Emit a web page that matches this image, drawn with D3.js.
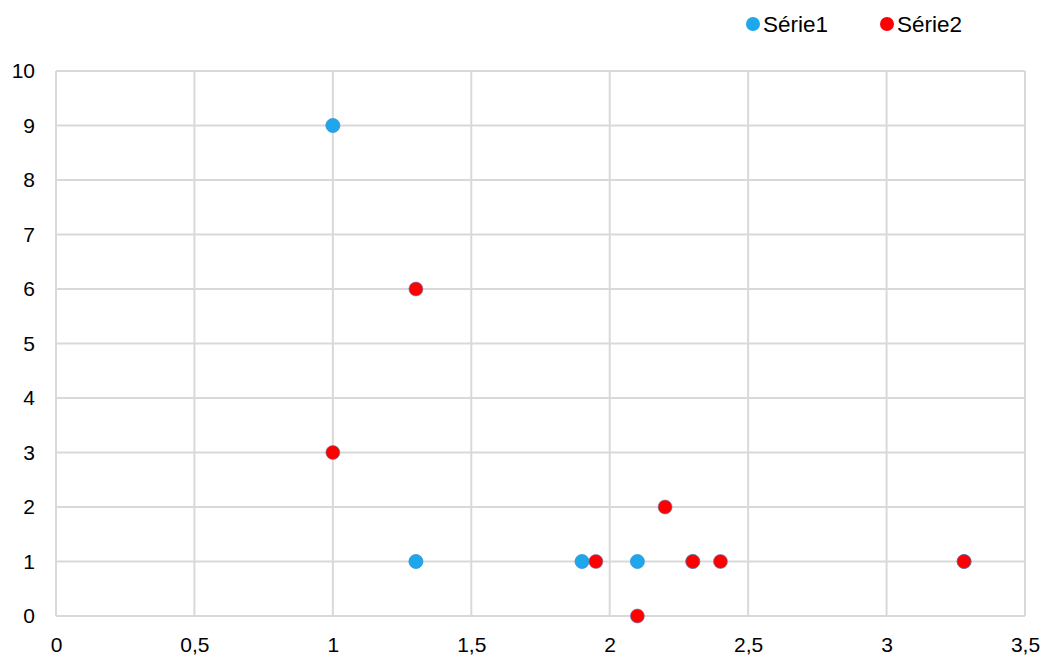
<!DOCTYPE html>
<html><head><meta charset="utf-8">
<script src="https://cdn.jsdelivr.net/npm/d3@7"></script>
<style>body{margin:0;background:#fff;} svg{display:block;font-family:"Liberation Sans",Arial,sans-serif;}</style>
</head><body>
<svg id="c" width="1045" height="657"></svg>
<script>
const seriesNames = ["Série1", "Série2"];
const seriesColors = ["#1fa7ec", "#ff0000"];
const serie1X = [1, 1.3, 1.9, 2.1, 2.3, 3.28];
const serie1Y = [9, 1, 1, 1, 1, 1];
const serie2X = [1, 1.3, 1.95, 2.1, 2.2, 2.3, 2.4, 3.28];
const serie2Y = [3, 6, 1, 0, 2, 1, 1, 1];
const xTicks = [0, 0.5, 1, 1.5, 2, 2.5, 3, 3.5];
const yTicks = [0, 1, 2, 3, 4, 5, 6, 7, 8, 9, 10];

const svg = d3.select("#c");
const L = 56, R = 1025, T = 71, B = 616;
const x = d3.scaleLinear().domain([0, 3.5]).range([L, R]);
const y = d3.scaleLinear().domain([0, 10]).range([B, T]);
const fmt = d => String(d).replace(".", ",");

// grid
svg.append("g").selectAll("line").data(xTicks).join("line")
  .attr("x1", d => x(d)).attr("x2", d => x(d)).attr("y1", T).attr("y2", B)
  .attr("stroke", "#d9d9d9").attr("stroke-width", 2);
svg.append("g").selectAll("line").data(yTicks).join("line")
  .attr("y1", d => y(d)).attr("y2", d => y(d)).attr("x1", L).attr("x2", R)
  .attr("stroke", "#d9d9d9").attr("stroke-width", 2);

// axes via d3
const xa = svg.append("g").attr("transform", `translate(0,${B})`)
  .call(d3.axisBottom(x).tickValues(xTicks).tickFormat(fmt).tickSize(0).tickPadding(21));
const ya = svg.append("g").attr("transform", `translate(${L},0)`)
  .call(d3.axisLeft(y).tickValues(yTicks).tickSize(0).tickPadding(21));
[xa, ya].forEach(a => {
  a.select(".domain").remove();
  a.selectAll("text").attr("font-size", 21).attr("fill", "#000")
    .attr("font-family", '"Liberation Sans",Arial,sans-serif');
});

// points
const s1 = serie1X.map((v, i) => [v, serie1Y[i]]);
const s2 = serie2X.map((v, i) => [v, serie2Y[i]]);
svg.append("g").selectAll("circle").data(s1).join("circle")
  .attr("cx", d => x(d[0])).attr("cy", d => y(d[1])).attr("r", 7)
  .attr("fill", seriesColors[0]).attr("stroke", "#3a8fd6").attr("stroke-width", 0.8);
svg.append("g").selectAll("circle").data(s2).join("circle")
  .attr("cx", d => x(d[0])).attr("cy", d => y(d[1])).attr("r", 7)
  .attr("fill", seriesColors[1]).attr("stroke", "#5b7fc0").attr("stroke-width", 0.6);

// legend
const leg = svg.append("g");
const legX = [753, 887];
seriesNames.forEach((n, i) => {
  leg.append("circle").attr("cx", legX[i]).attr("cy", 24).attr("r", 7).attr("fill", seriesColors[i]);
  leg.append("text").attr("x", legX[i] + 10).attr("y", 32).attr("font-size", 22.5).text(n);
});
</script>
</body></html>
